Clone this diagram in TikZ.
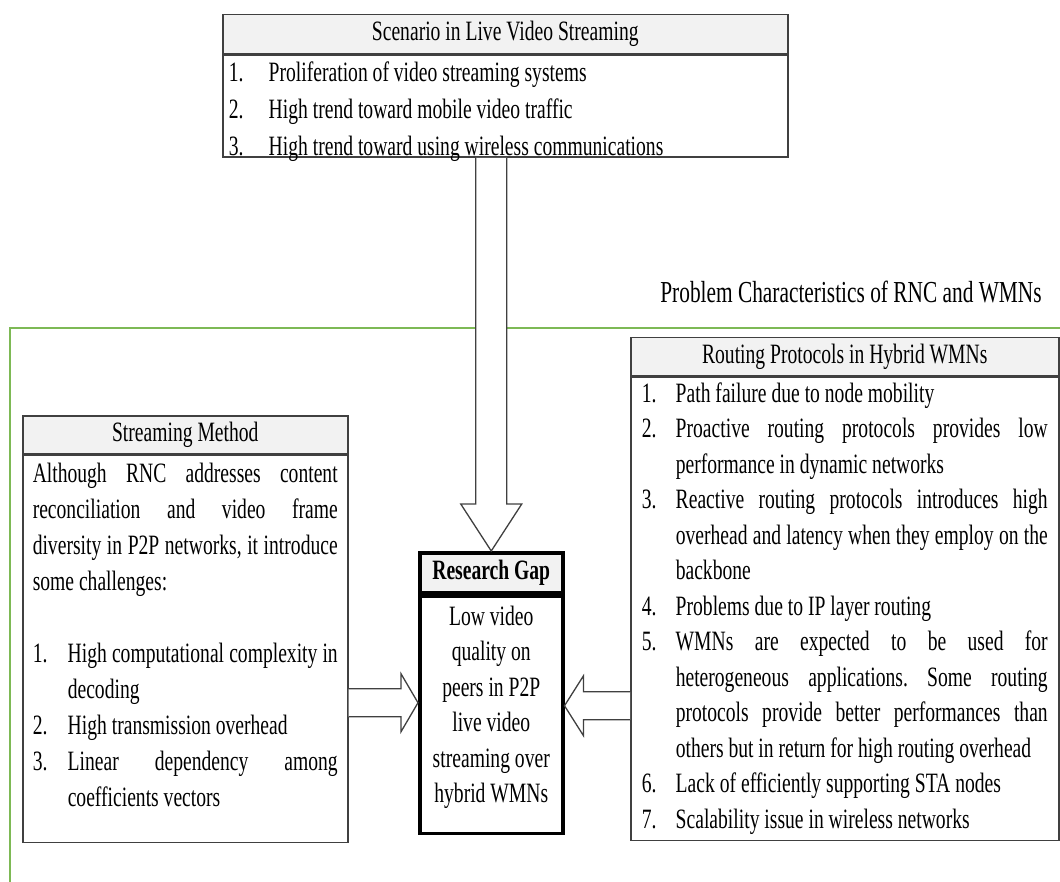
\documentclass[tikz,border=0pt]{standalone}
\usepackage{fontspec}
\setmainfont{Liberation Serif}[FakeStretch=0.7]
\usetikzlibrary{positioning,calc}
\definecolor{boxgray}{RGB}{64,64,64}
\definecolor{headgray}{RGB}{242,242,242}
\definecolor{framegreen}{RGB}{125,185,85}
\newlength{\itemind}
\newcommand{\litem}[2]{\par\hangindent=\itemind\hangafter=1\noindent\makebox[\itemind][l]{#1.}\strut#2}
\hyphenpenalty=10000
\exhyphenpenalty=10000
\tolerance=9999
\frenchspacing

\begin{document}
\begin{tikzpicture}[x=1pt,y=-1pt,
  every node/.style={font=\fontsize{28}{35.5}\selectfont},
  headbox/.style={draw=boxgray,line width=1.5pt,fill=headgray,inner sep=0pt,anchor=north west},
  bodybox/.style={draw=boxgray,line width=1.5pt,fill=white,inner sep=0pt,below=0pt of #1},
  fatarrow/.style={draw=boxgray,line width=1.3pt,fill=white,line join=miter}]
\useasboundingbox (0,0) rectangle (1060,882);

% frame of the problem part
\draw[framegreen,line width=1.8pt] (10,882) -- (10,328) -- (1060,328);
\node (probtitle) at (851,292) {\fontsize{30.5}{36}\selectfont Problem Characteristics of RNC and WMNs};

% scenario
\node[headbox,minimum width=565pt,minimum height=39pt] (scenhead) at (222,14) {Scenario in Live Video Streaming};
\node[bodybox=scenhead,inner xsep=6pt] (scenbody) {\parbox[c][102pt][t]{553pt}{\fontsize{28}{37}\selectfont\setlength{\itemind}{40pt}%
\litem{1}{Proliferation of video streaming systems}
\litem{2}{High trend toward mobile video traffic}
\litem{3}{High trend toward using wireless communications}}};

% streaming method
\node[headbox,minimum width=325pt,minimum height=38pt] (streamhead) at (22,415) {Streaming Method};
\node[bodybox=streamhead,inner xsep=10pt] (streambody) {\parbox[c][387pt][t]{305pt}{\fontsize{28}{36}\selectfont\setlength{\itemind}{35pt}%
\vspace*{2pt}\strut Although RNC addresses content\linebreak reconciliation and video frame\linebreak diversity in P2P networks, it introduce\linebreak some challenges:\par
\strut\par
\litem{1}{High computational complexity in\linebreak decoding}
\litem{2}{High transmission overhead}
\litem{3}{Linear dependency among\linebreak coefficients vectors}}};

% research gap
\node[headbox,draw=black,line width=3.5pt,minimum width=143pt,minimum height=40pt] (gaphead) at (418,551) {\textbf{Research Gap}};
\node[bodybox=gaphead,draw=black,line width=3.5pt] (gapbody) {\parbox[c][237pt][t]{143pt}{\centering\fontsize{28}{35.5}\selectfont
\vspace*{4pt}\strut Low video\\quality on\\peers in P2P\\live video\\streaming over\\hybrid WMNs}};

% routing protocols
\node[headbox,minimum width=428pt,minimum height=38pt] (routhead) at (630,337) {Routing Protocols in Hybrid WMNs};
\node[bodybox=routhead,inner xsep=11pt] (routbody) {\parbox[c][463pt][t]{406pt}{\fontsize{28}{35.5}\selectfont\setlength{\itemind}{34pt}%
\litem{1}{Path failure due to node mobility}
\litem{2}{Proactive routing protocols provides low\linebreak performance in dynamic networks}
\litem{3}{Reactive routing protocols introduces high\linebreak overhead and latency when they employ on the\linebreak backbone}
\litem{4}{Problems due to IP layer routing}
\litem{5}{WMNs are expected to be used for\linebreak heterogeneous applications. Some routing\linebreak protocols provide better performances than\linebreak others but in return for high routing overhead}
\litem{6}{Lack of efficiently supporting STA nodes}
\litem{7}{Scalability issue in wireless networks}}};

% block arrows
\coordinate (dtip) at (gaphead.north);
\coordinate (dbase) at (dtip |- scenbody.south);
\coordinate (ltip) at ($(gapbody.west)+(0,-12)$);
\coordinate (lbase) at (streambody.east |- ltip);
\coordinate (rtip) at ($(gapbody.east)+(0,-9)$);
\coordinate (rbase) at (routbody.west |- rtip);
\draw[fatarrow] ($(dbase)+(-15.5,0)$) -- ($(dtip)+(-15.5,-47)$) -- ($(dtip)+(-30.5,-47)$) -- (dtip) -- ($(dtip)+(30.5,-47)$) -- ($(dtip)+(15.5,-47)$) -- ($(dbase)+(15.5,0)$);
\draw[fatarrow] ($(lbase)+(0,-14)$) -- ($(ltip)+(-17,-14)$) -- ($(ltip)+(-17,-29)$) -- (ltip) -- ($(ltip)+(-17,29)$) -- ($(ltip)+(-17,14)$) -- ($(lbase)+(0,14)$);
\draw[fatarrow] ($(rbase)+(0,-14)$) -- ($(rtip)+(19,-14)$) -- ($(rtip)+(19,-30)$) -- (rtip) -- ($(rtip)+(19,30)$) -- ($(rtip)+(19,14)$) -- ($(rbase)+(0,14)$);
\end{tikzpicture}
\end{document}
